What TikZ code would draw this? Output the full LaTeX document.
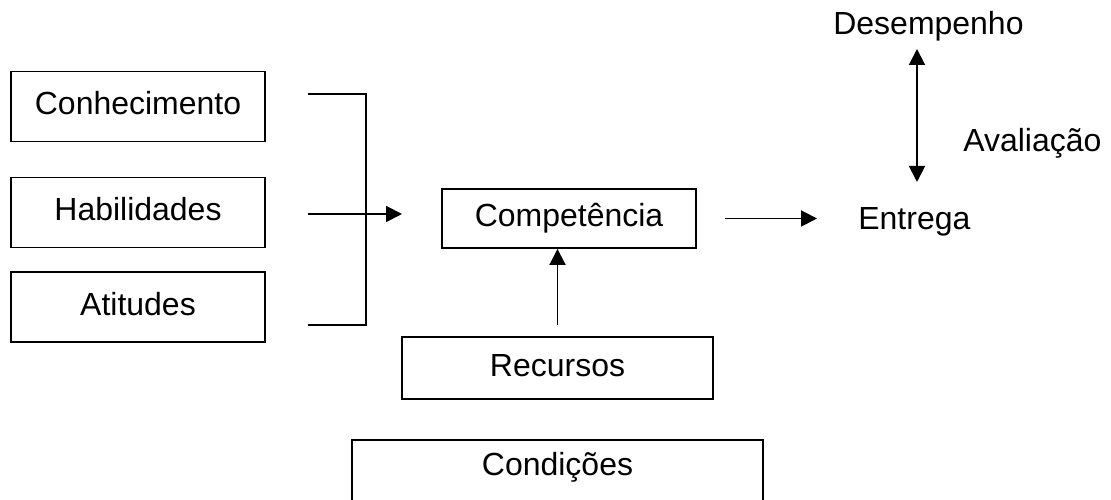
\documentclass[tikz,border=0pt]{standalone}
\usepackage{fontspec}
\setmainfont{Liberation Sans}
\usepackage{tikz}
\usetikzlibrary{arrows.meta}
\usetikzlibrary{calc}

\begin{document}
\begin{tikzpicture}[
	box/.style={draw,line width=1.1pt,inner sep=0pt,text height=0.46cm,text depth=0.12cm},
	arr/.style={line width=1.1pt,-{Triangle[length=0.32cm,width=0.32cm]}},
	lbl/.style={inner sep=0pt,anchor=base west},
	font=\fontsize{18.2}{22}\selectfont]
	\useasboundingbox (0,0) rectangle (22.22,10);
	% the three inputs
	\foreach \name/\txt/\y in {con/Conhecimento/7.87,hab/Habilidades/5.75,ati/Atitudes/3.86}
		{\node[box,minimum width=5.08cm,minimum height=1.40cm] (\name) at (2.76,\y) {\txt};
	};
	\node[box,minimum width=5.08cm,minimum height=1.18cm] (comp) at (11.38,5.63) {Competência};
	\node[box,minimum width=6.22cm,minimum height=1.24cm] (rec) at (11.15,2.64) {Recursos};
	\node[box,anchor=north,minimum width=8.22cm,inner ysep=0.25cm,text depth=1cm] (cond) at (11.15,1.22) {Condições};
	\node[lbl] (ent) at (17.16,5.40) {Entrega};
	\node[lbl] (des) at (16.66,9.30) {Desempenho};
	\node[lbl] (ava) at (19.26,6.96) {Avaliação};
	% bracket
	\coordinate (brTop) at (6.16,8.12);
	\coordinate (brBot) at (6.16,3.50);
	\coordinate (brMid) at (6.16,5.72);
	\coordinate (brTip) at (8.04,5.72);
	\draw[line width=1.1pt] (brTop) -- ++(1.16,0) |- (brBot);
	\draw[arr] (brMid) -- (brTip);
	% arrows
	\draw[arr,shorten <=0.56cm] (comp.east) -- ($(comp.east -| ent.west)+(-0.82,0)$);
	\draw[arr,shorten <=0.22cm] (rec.north) -- (comp.south -| rec.north);
	\coordinate (avTop) at (18.34,9.02);
	\coordinate (avBot) at (18.34,6.36);
	\draw[line width=1.1pt,{Triangle[length=0.32cm,width=0.32cm]}-{Triangle[length=0.32cm,width=0.32cm]}] (avBot) -- (avTop);
\end{tikzpicture}
\end{document}
